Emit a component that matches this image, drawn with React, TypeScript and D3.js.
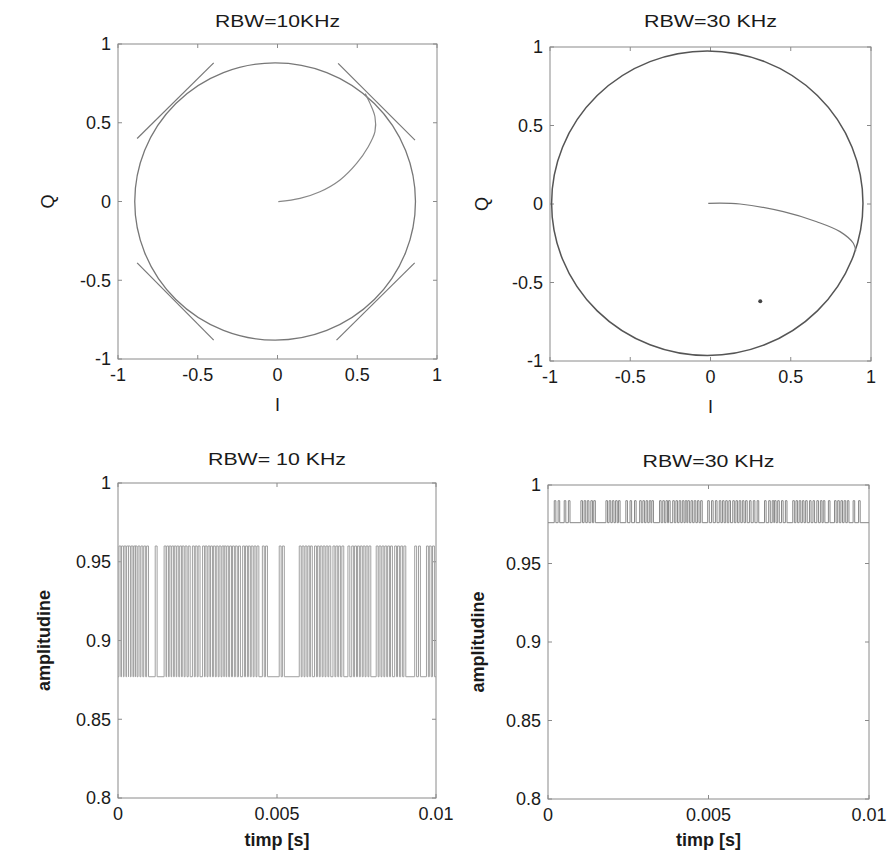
import React from 'react';
import * as d3 from 'd3';

// ---------- DATA ----------
const iqTicks = [-1, -0.5, 0, 0.5, 1];
const iqTickLabels = ['-1', '-0.5', '0', '0.5', '1'];
const ampTicks = [0.8, 0.85, 0.9, 0.95, 1];
const ampTickLabels = ['0.8', '0.85', '0.9', '0.95', '1'];
const timeTicks = [0, 0.005, 0.01];
const timeTickLabels = ['0', '0.005', '0.01'];

const titles = ['RBW=10KHz', 'RBW=30 KHz', 'RBW= 10 KHz', 'RBW=30 KHz'];

// constellation circles: [centre I, centre Q, radius]
const circle10 = [-0.015, 0, 0.88];
const circle30 = [-0.02, 0.005, 0.97];

// start-up trajectories [I, Q]
const tail10: [number, number][] = [
  [0.005, -0.001], [0.141, 0.02], [0.266, 0.062], [0.392, 0.137], [0.496, 0.242],
  [0.569, 0.348], [0.611, 0.443], [0.611, 0.538], [0.58, 0.623], [0.55, 0.685],
];
const tail30: [number, number][] = [
  [-0.014, 0.004], [0.184, 0.0], [0.454, -0.049], [0.662, -0.113], [0.807, -0.176],
  [0.89, -0.25], [0.905, -0.3],
];
// near-tangent transition segments (RBW=10KHz) [I1,Q1,I2,Q2]
const segs10 = [
  [-0.88, 0.4, -0.4, 0.88],
  [0.38, 0.877, 0.862, 0.39],
  [-0.88, -0.39, -0.4, -0.88],
  [0.37, -0.88, 0.86, -0.39],
];
const dot30: [number, number] = [0.31, -0.62];

// amplitude spikes (time in ms)
const spikes10 = [
  0.06, 0.14, 0.22, 0.30, 0.36, 0.44, 0.52, 0.57,
  0.66, 0.75, 0.84, 0.93,
  1.20,
  1.48, 1.56, 1.64, 1.72,
  1.80, 1.88, 1.97, 2.05, 2.14, 2.24,
  2.37, 2.46, 2.55,
  2.69, 2.77, 2.86, 2.94, 3.03, 3.12, 3.21, 3.30,
  3.37, 3.45, 3.54, 3.63, 3.72, 3.82,
  3.95, 4.04, 4.13, 4.22, 4.31, 4.40,
  4.57, 4.67,
  5.10, 5.20,
  5.73, 5.82, 5.91, 6.00, 6.08,
  6.21, 6.30, 6.39, 6.48, 6.57, 6.66,
  6.79, 6.88, 6.97, 7.07,
  7.26, 7.38,
  7.47, 7.56, 7.65, 7.74, 7.83, 7.92,
  8.15, 8.24, 8.33, 8.42, 8.51, 8.60,
  8.73, 8.82, 8.92, 9.02,
  9.36, 9.48,
  9.73, 9.82, 9.92,
];
const low10 = 0.877;
const high10 = 0.96;

const spikes30 = [
  0.22, 0.34,
  0.53, 0.66,
  1.05, 1.15, 1.25, 1.36, 1.45,
  1.83, 1.93, 2.03, 2.13, 2.22,
  2.45, 2.58, 2.72,
  2.88, 2.98, 3.08, 3.18, 3.26,
  3.50, 3.60, 3.70, 3.78,
  3.91, 4.01, 4.11, 4.21, 4.30,
  4.38, 4.48, 4.58, 4.68, 4.78,
  5.00, 5.12, 5.24,
  5.36, 5.46, 5.56, 5.66,
  5.78, 5.88, 5.98, 6.08, 6.18,
  6.30, 6.42, 6.54,
  6.77, 6.90, 7.01,
  7.08, 7.18, 7.30, 7.42,
  7.65, 7.75, 7.85, 7.95, 8.05,
  8.17, 8.28, 8.40, 8.51,
  8.60, 8.76,
  8.95, 9.05, 9.15, 9.25, 9.35,
  9.53, 9.70,
];
const low30 = 0.976;
const high30 = 0.99;

// ---------- LAYOUT ----------
type Box = { l: number; r: number; t: number; b: number };
const boxTL: Box = { l: 118, r: 437, t: 44, b: 359 };
const boxTR: Box = { l: 550, r: 871, t: 47, b: 361 };
const boxBL: Box = { l: 118, r: 436, t: 483, b: 798 };
const boxBR: Box = { l: 548, r: 869, t: 485, b: 799 };

const FONT = '"Liberation Sans", Arial, Helvetica, sans-serif';
const TXT = '#1a1a1a';
const AX = '#8a8a8a';

function Axes({ box, xs, ys, xt, xtl, yt, ytl, title, titleLen, titleY, xlab, xlabY, xlabBold, ylab, ylabX, ylabBold }: any) {
  return (
    <g>
      <rect x={box.l} y={box.t} width={box.r - box.l} height={box.b - box.t} fill="none" stroke={AX} strokeWidth={1} />
      {xt.map((v: number, i: number) => (
        <g key={'x' + i}>
          <line x1={xs(v)} x2={xs(v)} y1={box.b} y2={box.b - 4} stroke={AX} />
          <line x1={xs(v)} x2={xs(v)} y1={box.t} y2={box.t + 4} stroke={AX} />
          <text x={xs(v)} y={box.b + 22} textAnchor="middle" fontSize={18} fontFamily={FONT} fill={TXT}>{xtl[i]}</text>
        </g>
      ))}
      {yt.map((v: number, i: number) => (
        <g key={'y' + i}>
          <line x1={box.l} x2={box.l + 4} y1={ys(v)} y2={ys(v)} stroke={AX} />
          <line x1={box.r} x2={box.r - 4} y1={ys(v)} y2={ys(v)} stroke={AX} />
          <text x={box.l - 7} y={ys(v)} dy="0.36em" textAnchor="end" fontSize={18} fontFamily={FONT} fill={TXT}>{ytl[i]}</text>
        </g>
      ))}
      <text x={(box.l + box.r) / 2} y={titleY} textAnchor="middle" fontSize={17} fontFamily={FONT} fill={TXT}
        textLength={titleLen} lengthAdjust="spacingAndGlyphs">{title}</text>
      <text x={(box.l + box.r) / 2} y={xlabY} textAnchor="middle" fontSize={xlabBold ? 18 : 18} fontWeight={xlabBold ? 'bold' : 'normal'} fontFamily={FONT} fill={TXT}>{xlab}</text>
      <text transform={`translate(${ylabX},${(box.t + box.b) / 2}) rotate(-90)`} textAnchor="middle" dy="0.35em" fontSize={18} fontWeight={ylabBold ? 'bold' : 'normal'} fontFamily={FONT} fill={TXT}>{ylab}</text>
    </g>
  );
}

function spikePath(spikes: number[], low: number, high: number, hw: number, xs: any, ys: any) {
  const pts: [number, number][] = [[0, low]];
  spikes.forEach((t) => {
    pts.push([t - hw, low], [t - hw, high], [t + hw, high], [t + hw, low]);
  });
  pts.push([10, low]);
  return d3.line<[number, number]>().x((d) => xs(d[0] / 1000)).y((d) => ys(d[1]))(pts) || '';
}

export default function App() {
  const xTL = d3.scaleLinear().domain([-1, 1]).range([boxTL.l, boxTL.r]);
  const yTL = d3.scaleLinear().domain([-1, 1]).range([boxTL.b, boxTL.t]);
  const xTR = d3.scaleLinear().domain([-1, 1]).range([boxTR.l, boxTR.r]);
  const yTR = d3.scaleLinear().domain([-1, 1]).range([boxTR.b, boxTR.t]);
  const xBL = d3.scaleLinear().domain([0, 0.01]).range([boxBL.l, boxBL.r]);
  const yBL = d3.scaleLinear().domain([0.8, 1]).range([boxBL.b, boxBL.t]);
  const xBR = d3.scaleLinear().domain([0, 0.01]).range([boxBR.l, boxBR.r]);
  const yBR = d3.scaleLinear().domain([0.8, 1]).range([boxBR.b, boxBR.t]);

  const lineTL = d3.line<[number, number]>().x((d) => xTL(d[0])).y((d) => yTL(d[1])).curve(d3.curveCatmullRom);
  const lineTR = d3.line<[number, number]>().x((d) => xTR(d[0])).y((d) => yTR(d[1])).curve(d3.curveCatmullRom);

  return (
    <svg width={888} height={858} style={{ position: 'absolute', left: 0, top: 0, background: '#fff' }}>
      <rect width={888} height={858} fill="#fff" />
      {/* Top-left */}
      <Axes box={boxTL} xs={xTL} ys={yTL} xt={iqTicks} xtl={iqTickLabels} yt={iqTicks} ytl={iqTickLabels}
        title={titles[0]} titleLen={125} titleY={27} xlab="I" xlabY={411} ylab="Q" ylabX={48} />
      <ellipse cx={xTL(circle10[0])} cy={yTL(circle10[1])} rx={xTL(circle10[2]) - xTL(0)} ry={yTL(0) - yTL(circle10[2])}
        fill="none" stroke="#777" strokeWidth={1.3} />
      {segs10.map((s, i) => (
        <line key={i} x1={xTL(s[0])} y1={yTL(s[1])} x2={xTL(s[2])} y2={yTL(s[3])} stroke="#777" strokeWidth={1.2} />
      ))}
      <path d={lineTL(tail10) || ''} fill="none" stroke="#888" strokeWidth={1.2} />

      {/* Top-right */}
      <Axes box={boxTR} xs={xTR} ys={yTR} xt={iqTicks} xtl={iqTickLabels} yt={iqTicks} ytl={iqTickLabels}
        title={titles[1]} titleLen={133} titleY={27} xlab="I" xlabY={413} ylab="Q" ylabX={482} />
      <ellipse cx={xTR(circle30[0])} cy={yTR(circle30[1])} rx={xTR(circle30[2]) - xTR(0)} ry={yTR(0) - yTR(circle30[2])}
        fill="none" stroke="#555" strokeWidth={1.5} />
      <path d={lineTR(tail30) || ''} fill="none" stroke="#777" strokeWidth={1.2} />
      <circle cx={xTR(dot30[0])} cy={yTR(dot30[1])} r={2} fill="#444" />

      {/* Bottom-left */}
      <Axes box={boxBL} xs={xBL} ys={yBL} xt={timeTicks} xtl={timeTickLabels} yt={ampTicks} ytl={ampTickLabels}
        title={titles[2]} titleLen={138} titleY={465} xlab="timp [s]" xlabY={846} xlabBold ylab="amplitudine" ylabX={44} ylabBold />
      <path d={spikePath(spikes10, low10, high10, 0.03, xBL, yBL)} fill="none" stroke="#a0a0a0" strokeWidth={1} />

      {/* Bottom-right */}
      <Axes box={boxBR} xs={xBR} ys={yBR} xt={timeTicks} xtl={timeTickLabels} yt={ampTicks} ytl={ampTickLabels}
        title={titles[3]} titleLen={132} titleY={467} xlab="timp [s]" xlabY={846} xlabBold ylab="amplitudine" ylabX={478} ylabBold />
      <path d={spikePath(spikes30, low30, high30, 0.025, xBR, yBR)} fill="none" stroke="#888" strokeWidth={1} />
    </svg>
  );
}
